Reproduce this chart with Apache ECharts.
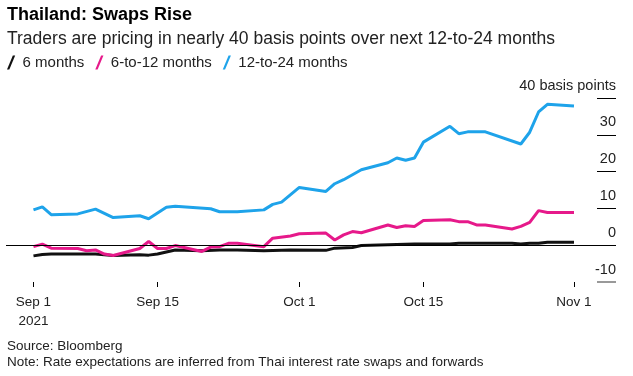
<!DOCTYPE html>
<html>
<head>
<meta charset="utf-8">
<script src="https://cdn.jsdelivr.net/npm/echarts@6/dist/echarts.min.js"></script>
<style>
  html, body { margin: 0; padding: 0; background: #fff; }
  #chart { width: 633px; height: 376px; }
</style>
</head>
<body>
<div id="chart"></div>
<script>
// values in basis points
const sixMonthDates = ['2021-09-01','2021-09-02','2021-09-03','2021-09-08','2021-09-10','2021-09-13','2021-09-14','2021-09-15','2021-09-17','2021-09-20','2021-09-22','2021-09-24','2021-09-27','2021-09-30','2021-10-04','2021-10-05','2021-10-07','2021-10-08','2021-10-14','2021-10-18','2021-10-19','2021-10-25','2021-10-26','2021-10-27','2021-10-28','2021-10-29','2021-11-01'];
const sixMonthValues = [-2.9,-2.5,-2.4,-2.4,-2.8,-2.6,-2.7,-2.4,-1.3,-1.5,-1.3,-1.3,-1.5,-1.3,-1.4,-0.8,-0.6,-0.1,0.3,0.3,0.5,0.5,0.3,0.5,0.5,0.8,0.8];

const sixToTwelveDates = ['2021-09-01','2021-09-02','2021-09-03','2021-09-06','2021-09-07','2021-09-08','2021-09-09','2021-09-10','2021-09-13','2021-09-14','2021-09-15','2021-09-16','2021-09-17','2021-09-20','2021-09-21','2021-09-22','2021-09-23','2021-09-24','2021-09-27','2021-09-28','2021-09-30','2021-10-01','2021-10-04','2021-10-05','2021-10-06','2021-10-07','2021-10-08','2021-10-11','2021-10-12','2021-10-13','2021-10-14','2021-10-15','2021-10-18','2021-10-19','2021-10-20','2021-10-21','2021-10-22','2021-10-25','2021-10-26','2021-10-27','2021-10-28','2021-10-29','2021-11-01'];
const sixToTwelveValues = [-0.4,0.3,-0.8,-0.9,-1.5,-1.3,-2.4,-2.8,-0.9,1.0,-0.9,-0.9,-0.1,-1.7,-0.5,-0.4,0.5,0.5,-0.4,1.9,2.5,3.1,3.3,1.4,2.8,3.7,3.4,5.5,4.8,5.3,5.1,6.7,6.9,6.4,6.4,5.5,5.5,4.4,5.1,6.2,9.4,8.9,8.9];

const twelveToTwentyFourDates = ['2021-09-01','2021-09-02','2021-09-03','2021-09-06','2021-09-08','2021-09-10','2021-09-13','2021-09-14','2021-09-16','2021-09-17','2021-09-21','2021-09-22','2021-09-24','2021-09-27','2021-09-28','2021-09-29','2021-10-01','2021-10-04','2021-10-05','2021-10-06','2021-10-08','2021-10-11','2021-10-12','2021-10-13','2021-10-14','2021-10-15','2021-10-18','2021-10-19','2021-10-20','2021-10-22','2021-10-26','2021-10-27','2021-10-28','2021-10-29','2021-11-01'];
const twelveToTwentyFourValues = [9.6,10.4,8.3,8.5,9.8,7.5,8.0,7.2,10.3,10.6,9.9,9.1,9.1,9.6,11.1,11.7,15.7,14.6,16.7,17.8,20.5,22.4,23.7,23.1,23.7,28.0,32.3,30.3,30.8,30.8,27.5,30.7,36.2,38.3,37.8];

const tickDates = ['2021-09-01','2021-09-15','2021-10-01','2021-10-15','2021-11-01'];
const tickLabels = ['Sep 1\n2021','Sep 15','Oct 1','Oct 15','Nov 1'];

const seriesNames = ['6 months', '6-to-12 months', '12-to-24 months'];
const seriesColors = ['#111111', '#e6198a', '#1ea3ea'];

const FONT = '"Liberation Sans", Arial, sans-serif';
const DAY = 864e5;

// dates as local-midnight timestamps on a plain value axis
function ts(s) {
    const p = s.split('-').map(Number);
    return new Date(p[0], p[1] - 1, p[2]).getTime();
}
function pairs(dates, values) {
    return dates.map((d, i) => [ts(d), values[i]]);
}

const tickTs = tickDates.map(ts);
const start = ts('2021-09-01');

const chart = echarts.init(document.getElementById('chart'));

const slash = 'path://M3,12 L8,0 L10,0 L5,12 Z';

const option = {
    animation: false,
    textStyle: { fontFamily: FONT },
    title: [{
        text: 'Thailand: Swaps Rise',
        subtext: 'Traders are pricing in nearly 40 basis points over next 12-to-24 months',
        left: 2, top: 0, itemGap: 3,
        textStyle: { fontFamily: FONT, fontSize: 18, fontWeight: 'bold', color: '#000', lineHeight: 21 },
        subtextStyle: { fontFamily: FONT, fontSize: 17.5, color: '#222', lineHeight: 21 }
    }, {
        text: 'Source: Bloomberg\nNote: Rate expectations are inferred from Thai interest rate swaps and forwards',
        left: 2, top: 333,
        textStyle: { fontFamily: FONT, fontSize: 13.5, fontWeight: 'normal', color: '#222', lineHeight: 16 }
    }],
    legend: {
        left: 2, top: 50,
        itemWidth: 13, itemHeight: 14, itemGap: 11,
        icon: slash,
        textStyle: { fontFamily: FONT, fontSize: 15, color: '#222' },
        data: seriesNames
    },
    grid: { left: 6, right: 17, top: 98, bottom: 94, containLabel: false },
    xAxis: {
        type: 'value',
        min: start - 3.1 * DAY,
        max: start + 65.74 * DAY,
        axisLine: { show: false, onZero: false },
        splitLine: { show: false },
        axisTick: { show: true, length: 5, customValues: tickTs, lineStyle: { color: '#000', width: 1 } },
        axisLabel: {
            customValues: tickTs,
            margin: 11,
            fontSize: 13.5, color: '#222', lineHeight: 19,
            formatter: v => tickLabels[tickTs.indexOf(v)] || ''
        }
    },
    yAxis: [{
        type: 'value', position: 'right',
        min: -10, max: 40, interval: 10,
        axisLine: { show: false },
        splitLine: { show: false },
        axisTick: { show: true, inside: true, length: 19, customValues: [0, 10, 20, 30, 40], lineStyle: { color: '#000', width: 1 } },
        axisLabel: {
            inside: true, margin: 0, align: 'right', verticalAlign: 'bottom',
            padding: [0, 0, 5, 0],
            fontSize: 14.5, color: '#222',
            formatter: v => v === 40 ? '40 basis points' : String(v)
        }
    }, {
        type: 'value', position: 'right',
        min: -10, max: 40, interval: 10,
        axisLine: { show: false },
        splitLine: { show: false },
        axisTick: { show: true, inside: true, length: 19, customValues: [-10], lineStyle: { color: '#999', width: 2 } },
        axisLabel: { show: false }
    }],
    series: [{
        name: seriesNames[0], type: 'line', showSymbol: false, symbol: 'none',
        data: pairs(sixMonthDates, sixMonthValues),
        lineStyle: { color: seriesColors[0], width: 3 }, itemStyle: { color: seriesColors[0] },
        z: 3,
        markLine: {
            silent: true, symbol: 'none', label: { show: false },
            lineStyle: { color: '#000', width: 1, type: 'solid' },
            data: [{ yAxis: 0 }]
        }
    }, {
        name: seriesNames[1], type: 'line', showSymbol: false, symbol: 'none',
        data: pairs(sixToTwelveDates, sixToTwelveValues),
        lineStyle: { color: seriesColors[1], width: 3 }, itemStyle: { color: seriesColors[1] },
        z: 4
    }, {
        name: seriesNames[2], type: 'line', showSymbol: false, symbol: 'none',
        data: pairs(twelveToTwentyFourDates, twelveToTwentyFourValues),
        lineStyle: { color: seriesColors[2], width: 3 }, itemStyle: { color: seriesColors[2] },
        z: 5
    }]
};

chart.setOption(option);
</script>
</body>
</html>
